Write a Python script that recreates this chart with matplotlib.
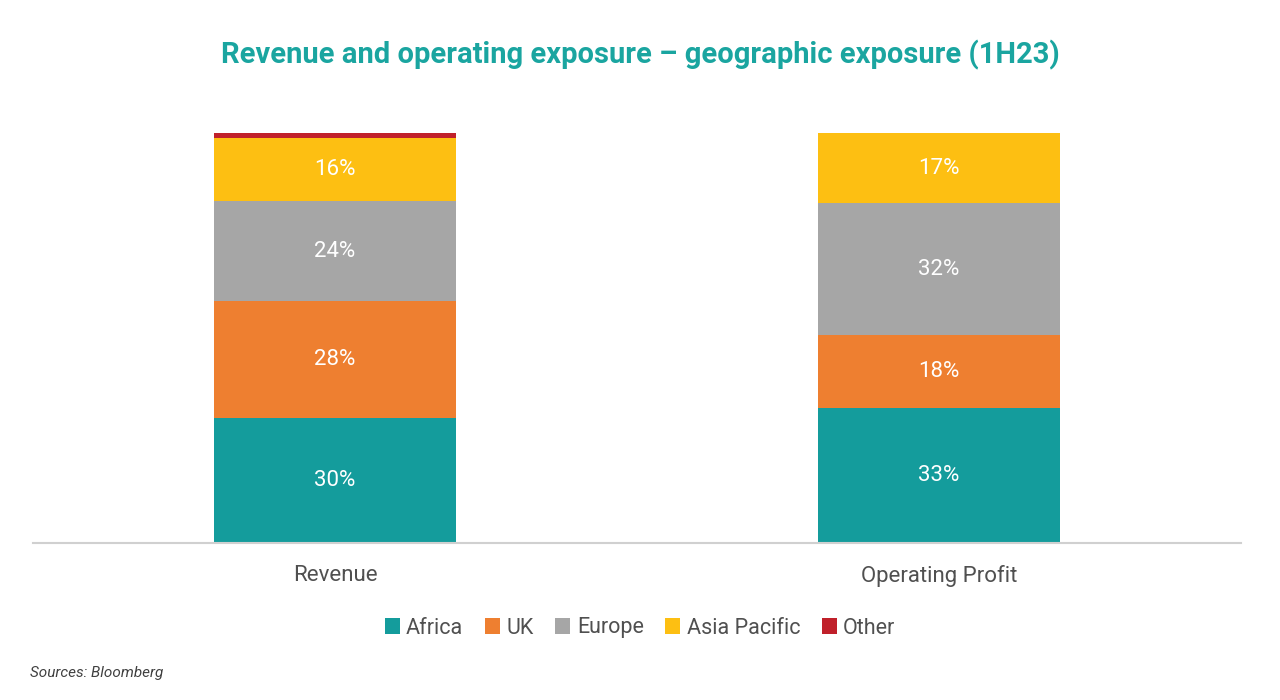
import numpy as np
import matplotlib
matplotlib.use('Agg')
import matplotlib.pyplot as plt
from matplotlib.patches import Patch

categories = ['Revenue', 'Operating Profit']
regions = ['Africa', 'UK', 'Europe', 'Asia Pacific', 'Other']
africa = [30.5, 32.9]
uk = [28.5, 17.8]
europe = [24.4, 32.2]
asia_pacific = [15.4, 17.1]
other = [1.2, 0.0]
# printed labels as they appear on the chart
labels = {
    'Africa': ['30%', '33%'],
    'UK': ['28%', '18%'],
    'Europe': ['24%', '32%'],
    'Asia Pacific': ['16%', '17%'],
    'Other': ['', ''],
}

colors = ['#149c9c', '#ee7f30', '#a6a6a6', '#fdbf12', '#c0202a']
plt.rcParams['font.family'] = ['Roboto', 'DejaVu Sans']

fig = plt.figure(figsize=(12.8, 7), dpi=100)
ax = fig.add_axes([33 / 1280, 157 / 700, 1208 / 1280, 410 / 700])

x = np.arange(len(categories))
bottom = np.zeros(len(categories))
series = [africa, uk, europe, asia_pacific, other]
for name, vals, c in zip(regions, series, colors):
    vals = np.array(vals)
    ax.bar(x, vals, width=0.4, bottom=bottom, color=c, label=name)
    for xi, b, v, t in zip(x, bottom, vals, labels[name]):
        if t:
            ax.text(xi, b + v / 2, t, ha='center', va='center', color='white',
                    fontsize=16, fontweight='normal')
    bottom += vals

ax.set_xlim(-0.5, 1.5)
ax.set_ylim(0, 100)
ax.set_yticks([])
ax.set_xticks(x)
ax.set_xticklabels(categories, fontsize=16, color='#505050', fontweight='normal')
ax.tick_params(axis='x', length=0, pad=16)
for s in ['top', 'right', 'left']:
    ax.spines[s].set_visible(False)
ax.spines['bottom'].set_color('#d0d0d0')
ax.spines['bottom'].set_linewidth(1.5)

fig.text(0.5, 645 / 700, 'Revenue and operating exposure \u2013 geographic exposure (1H23)',
         ha='center', va='center', fontsize=21, fontweight='bold', color='#1aa5a0')

handles = [Patch(facecolor=c, label=r) for r, c in zip(regions, colors)]
fig.legend(handles=handles, loc='center', bbox_to_anchor=(0.5, 72 / 700), ncol=5,
           frameon=False, handlelength=0.7, handleheight=0.7,
           handletextpad=0.3, columnspacing=1.0, labelcolor='#505050',
           prop={'weight': 'normal', 'size': 15.5})

fig.text(30 / 1280, 27 / 700, 'Sources: Bloomberg', ha='left', va='center',
         fontsize=11, fontstyle='italic', color='#404040')

fig.savefig('out.png', dpi=100)
